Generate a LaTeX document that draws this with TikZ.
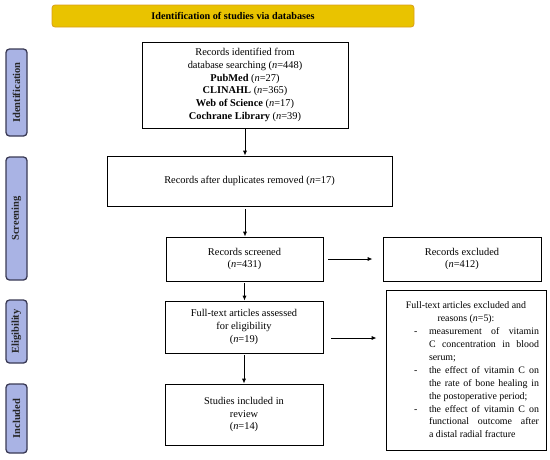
\documentclass[tikz,border=0pt]{standalone}
\usepackage{fontspec}
\setmainfont{Liberation Serif}
\usetikzlibrary{arrows.meta}
\definecolor{bannerfill}{HTML}{E9C300}
\definecolor{bannerdraw}{HTML}{D99E1A}
\definecolor{sidefill}{HTML}{A9B3E4}
\definecolor{sidedraw}{HTML}{3A3A55}
\tikzset{
  box/.style={draw=black, line width=0.9pt, fill=white, align=center, inner sep=2pt,
    font=\fontsize{10.4}{12.8}\selectfont},
  side/.style={draw=sidedraw, line width=1.3pt, fill=sidefill, rounded corners=3.5pt,
    minimum width=21pt, inner sep=0pt, font=\fontsize{10.5}{11}\selectfont\bfseries, text=black!85},
  banner/.style={draw=bannerdraw, line width=0.8pt, fill=bannerfill, rounded corners=3pt,
    minimum width=362pt, minimum height=22pt, inner sep=0pt, font=\fontsize{10.2}{11}\selectfont\bfseries},
  arr/.style={-{Latex[length=5pt,width=4.2pt]}, line width=0.9pt}
}
\begin{document}
\begin{tikzpicture}[x=1pt,y=-1pt]
\useasboundingbox (0,0) rectangle (550,459);
\node[banner] (ban) at (233,16) {Identification of studies via databases};
\node[side, minimum height=87pt] (sid) at (16.5,92.5) {\rotatebox{90}{Identification}};
\node[side, minimum height=123pt] (ssc) at (16.5,218.5) {\rotatebox{90}{Screening}};
\node[side, minimum height=63pt] (sel) at (16.5,331.5) {\rotatebox{90}{Eligibility}};
\node[side, minimum height=69pt] (sin) at (16.5,418.5) {\rotatebox{90}{Included}};

\node[box, minimum width=206pt, minimum height=86pt] (b1) at (245,85)
  {Records identified from\\ database searching (\textit{n}=448)\\ \textbf{PubMed} (\textit{n}=27)\\
   \textbf{CLINAHL} (\textit{n}=365)\\ \textbf{Web of Science} (\textit{n}=17)\\ \textbf{Cochrane Library} (\textit{n}=39)};
\node[box, minimum width=285pt, minimum height=50pt] (b2) at (249.5,181)
  {Records after duplicates removed (\textit{n}=17)};
\node[box, minimum width=157pt, minimum height=44pt] (b3) at (244.5,259)
  {Records screened\\ (\textit{n}=431)};
\node[box, minimum width=158pt, minimum height=44pt] (ex) at (462,259)
  {Records excluded\\ (\textit{n}=412)};
\node[box, minimum width=158pt, minimum height=52pt] (b4) at (244,327)
  {Full-text articles assessed\\ for eligibility\\ (\textit{n}=19)};
\node[box, minimum width=158pt, minimum height=61pt] (b5) at (244,414.5)
  {Studies included in\\ review\\ (\textit{n}=14)};
\node[box, minimum width=160pt, minimum height=160pt, inner sep=0pt,
      font=\fontsize{9.9}{12.9}\selectfont] (ftx) at (466,370)
  {\vbox{\hsize=146pt \baselineskip=12.9pt
   \hbox to\hsize{\hfil Full-text articles excluded and\hfil}
   \hbox to\hsize{\hfil reasons (\textit{n}=5):\hfil}
   \hbox to\hsize{\hspace{21pt}-\hfil\makebox[110pt][s]{measurement of vitamin}}
   \hbox to\hsize{\hfil\makebox[110pt][s]{C concentration in blood}}
   \hbox to\hsize{\hfil\makebox[110pt][l]{serum;}}
   \hbox to\hsize{\hspace{21pt}-\hfil\makebox[110pt][s]{the effect of vitamin C on}}
   \hbox to\hsize{\hfil\makebox[110pt][s]{the rate of bone healing in}}
   \hbox to\hsize{\hfil\makebox[110pt][l]{the postoperative period;}}
   \hbox to\hsize{\hspace{21pt}-\hfil\makebox[110pt][s]{the effect of vitamin C on}}
   \hbox to\hsize{\hfil\makebox[110pt][s]{functional outcome after}}
   \hbox to\hsize{\hfil\makebox[110pt][l]{a distal radial fracture}}}};

\coordinate (ya) at (0,338);
\draw[arr] (b1.south) -- (b1.south |- b2.north);
\draw[arr, shorten <=3pt] (b1.south |- b2.south) -- (b1.south |- b3.north);
\draw[arr, shorten <=2pt] (b3.south) -- (b3.south |- b4.north);
\draw[arr, shorten <=2pt] (b4.south) -- (b4.south |- b5.north);
\draw[arr, shorten <=5pt, shorten >=10pt] (b3.east) -- (ex.west);
\draw[arr, shorten <=8pt, shorten >=9pt] (b4.east |- ya) -- (ftx.west |- ya);
\end{tikzpicture}
\end{document}
